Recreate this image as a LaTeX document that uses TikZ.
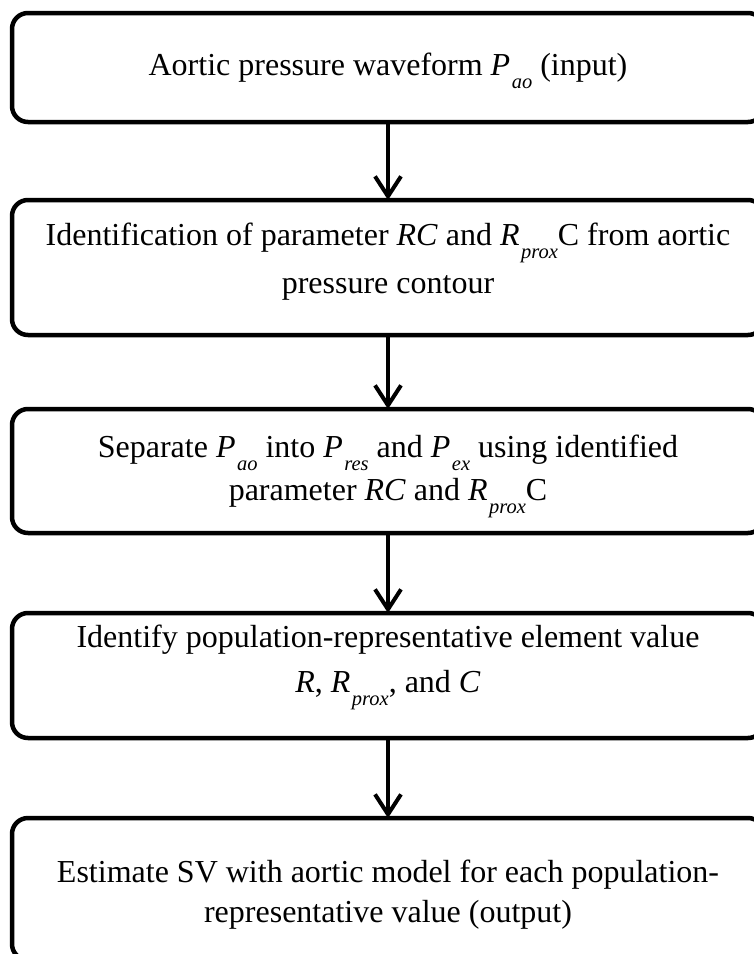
\documentclass[tikz,border=0pt]{standalone}
\usepackage{fontspec}
\setmainfont{Liberation Serif}
\usetikzlibrary{arrows.meta}
\newcommand\psub[1]{\kern1.5pt\raisebox{-0.42em}{\fontsize{20.5}{20.5}\selectfont\itshape #1}}
\begin{document}
\begin{tikzpicture}[x=1pt,y=-1pt,
  flowbox/.style={draw, line width=4.5pt, rounded corners=16pt, minimum width=752pt, inner sep=0pt, outer sep=0pt},
  flowtext/.style={anchor=base, inner sep=0pt, font=\fontsize{32}{40}\selectfont},
  flowarrow/.style={line width=4.5pt, -{Straight Barb[length=20pt,width=26pt,line width=4pt]}}]
\useasboundingbox (0,0) rectangle (754,954);
\node[flowbox, minimum height=109pt] (b1) at (388,67.5) {};
\node[flowbox, minimum height=135pt] (b2) at (388,267.5) {};
\node[flowbox, minimum height=124pt] (b3) at (388,471) {};
\node[flowbox, minimum height=125pt] (b4) at (388,675.5) {};
\node[flowbox, minimum height=142pt] (b5) at (388,889) {};
\node[flowtext] (t1) at (388,75) {Aortic pressure waveform \textit{P}\psub{ao} (input)};
\node[flowtext] (t2a) at (388,245) {Identification of parameter \textit{RC} and \textit{R}\psub{prox}C from aortic};
\node[flowtext] (t2b) at (388,293) {pressure contour};
\node[flowtext] (t3a) at (388,457) {Separate \textit{P}\psub{ao} into \textit{P}\psub{res} and \textit{P}\psub{ex} using identified};
\node[flowtext] (t3b) at (388,500) {parameter \textit{RC} and \textit{R}\psub{prox}C};
\node[flowtext] (t4a) at (388,647) {Identify population-representative element value};
\node[flowtext] (t4b) at (388,692) {\textit{R}, \textit{R}\psub{prox}, and \textit{C}};
\node[flowtext] (t5a) at (388,882) {Estimate SV with aortic model for each population-};
\node[flowtext] (t5b) at (388,922) {representative value (output)};
\draw[flowarrow] (b1.south) -- (b2.north);
\draw[flowarrow] (b2.south) -- (b3.north);
\draw[flowarrow] (b3.south) -- (b4.north);
\draw[flowarrow] (b4.south) -- (b5.north);
\end{tikzpicture}
\end{document}
